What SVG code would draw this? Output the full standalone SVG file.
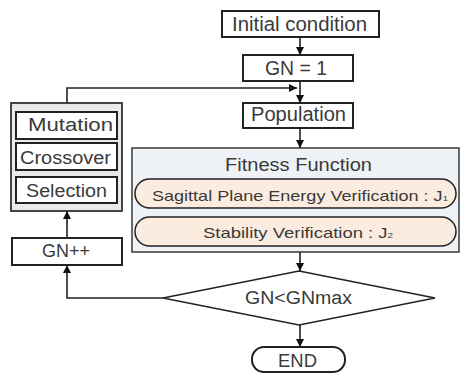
<svg xmlns="http://www.w3.org/2000/svg" width="461" height="374" viewBox="0 0 461 374">
<defs>
<marker id="ah" viewBox="0 0 10 10" refX="10" refY="5" markerWidth="8" markerHeight="8" markerUnits="userSpaceOnUse" orient="auto">
<path d="M0,0 L10,5 L0,10 z" fill="#111"/>
</marker>
<style>
.box{fill:#fff;stroke:#222;stroke-width:2}
.t{font-family:"Liberation Sans",Arial,sans-serif;fill:#3a3a3a;text-anchor:start}
.ln{fill:none;stroke:#222;stroke-width:1.6}
.pill{fill:#fcebdf;stroke:#222;stroke-width:1.5}
</style>
</defs>
<rect width="461" height="374" fill="#fff"/>
<g id="initial"><rect class="box" x="222" y="11" width="157" height="26"/><text class="t" x="232" y="31" font-size="20" textLength="135" lengthAdjust="spacingAndGlyphs">Initial condition</text></g>
<g id="gn1"><rect class="box" x="243" y="55" width="110" height="26"/><text class="t" x="265" y="75" font-size="20" textLength="62" lengthAdjust="spacingAndGlyphs">GN = 1</text></g>
<g id="population"><rect class="box" x="243" y="103" width="110" height="25"/><text class="t" x="251" y="121" font-size="20" textLength="95" lengthAdjust="spacingAndGlyphs">Population</text></g>
<g id="operators">
<rect x="11" y="103" width="111" height="108" fill="#eaeaea" stroke="#333" stroke-width="1.8"/>
<rect class="box" x="16" y="112" width="101" height="27" stroke-width="1.8"/><text class="t" x="28" y="131" font-size="18" textLength="85" lengthAdjust="spacingAndGlyphs">Mutation</text>
<rect class="box" x="16" y="143" width="101" height="27" stroke-width="1.8"/><text class="t" x="20" y="164" font-size="18" textLength="91" lengthAdjust="spacingAndGlyphs">Crossover</text>
<rect class="box" x="16" y="177" width="101" height="26" stroke-width="1.8"/><text class="t" x="26" y="197" font-size="18" textLength="81" lengthAdjust="spacingAndGlyphs">Selection</text>
</g>
<g id="gnpp"><rect class="box" x="12" y="238" width="110" height="27"/><text class="t" x="42" y="257" font-size="18" textLength="48" lengthAdjust="spacingAndGlyphs">GN++</text></g>
<g id="fitness">
<rect x="132" y="148" width="327" height="104" fill="#eef2f6" stroke="#444" stroke-width="1.6"/>
<text class="t" x="225" y="171" font-size="19" textLength="147" lengthAdjust="spacingAndGlyphs">Fitness Function</text>
<rect class="pill" x="135" y="179" width="321" height="29" rx="14.5" ry="14.5"/>
<text class="t" x="152" y="201" font-size="15" textLength="296" lengthAdjust="spacingAndGlyphs">Sagittal Plane Energy Verification : J<tspan font-size="8">1</tspan></text>
<rect class="pill" x="135" y="217" width="321" height="29" rx="14.5" ry="14.5"/>
<text class="t" x="203" y="238" font-size="15" textLength="190" lengthAdjust="spacingAndGlyphs">Stability Verification : J<tspan font-size="8">2</tspan></text>
</g>
<g id="decision"><polygon points="299,271 435,298 299,325 163,298" fill="#fff" stroke="#222" stroke-width="1.6"/><text class="t" x="245" y="304" font-size="18" textLength="107" lengthAdjust="spacingAndGlyphs">GN&lt;GNmax</text></g>
<g id="end"><rect class="box" x="252" y="347" width="93" height="25" rx="12" ry="12" stroke-width="1.8"/><text class="t" x="278" y="367" font-size="19" textLength="39" lengthAdjust="spacingAndGlyphs">END</text></g>
<g id="connectors">
<line class="ln" x1="300" y1="37" x2="300" y2="55" marker-end="url(#ah)"/>
<line class="ln" x1="300" y1="81" x2="300" y2="103" marker-end="url(#ah)"/>
<polyline class="ln" points="67,103 67,88 297,88" marker-end="url(#ah)"/>
<line class="ln" x1="300" y1="128" x2="300" y2="148" marker-end="url(#ah)"/>
<line class="ln" x1="300" y1="252" x2="300" y2="271" marker-end="url(#ah)"/>
<line class="ln" x1="300" y1="325" x2="300" y2="347" marker-end="url(#ah)"/>
<polyline class="ln" points="163,298 67,298 67,265" marker-end="url(#ah)"/>
<line class="ln" x1="67" y1="238" x2="67" y2="211" marker-end="url(#ah)"/>
</g>
</svg>
